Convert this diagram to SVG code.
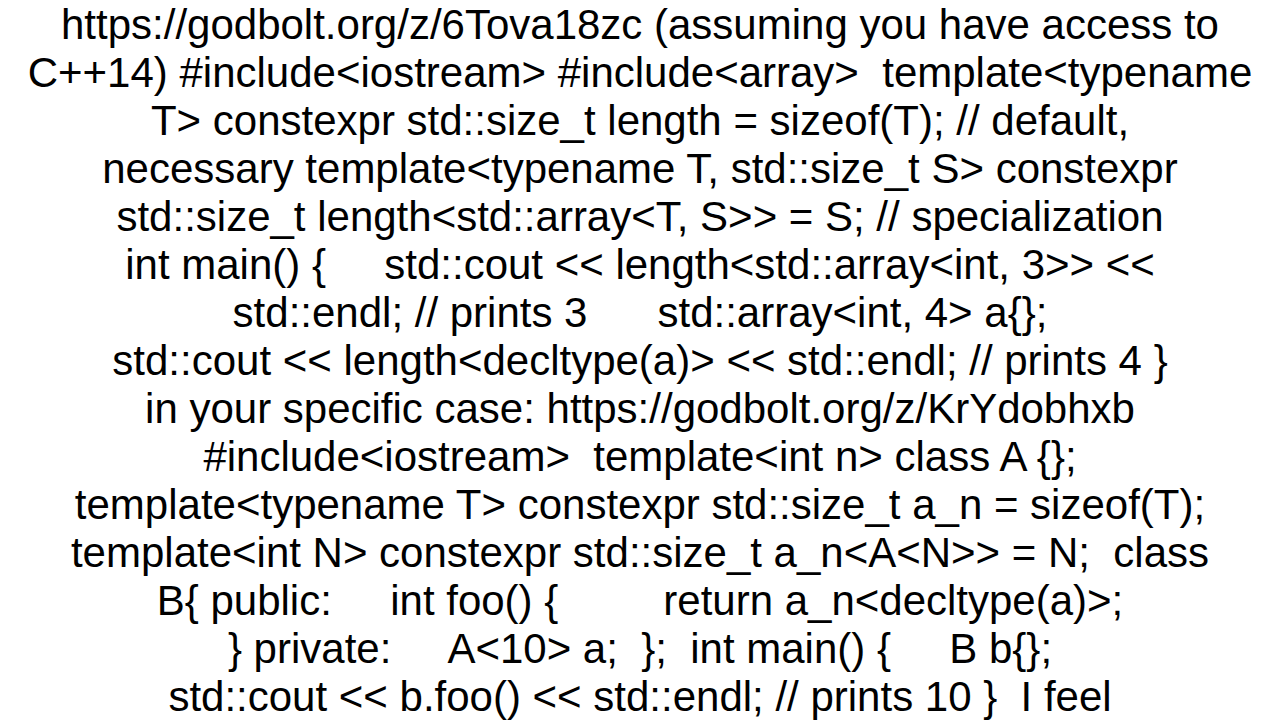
<svg xmlns="http://www.w3.org/2000/svg" width="1280" height="720" viewBox="0 0 1280 720">
<style>text{font-family:"Liberation Sans",Arial,sans-serif;font-size:42px;fill:#000;text-anchor:middle;white-space:pre}</style>
<rect width="1280" height="720" fill="#fff"/>
<g id="text">
<text x="640" y="39">https://godbolt.org/z/6Tova18zc (assuming you have access to</text>
<text x="640" y="87">C++14) #include&lt;iostream&gt; #include&lt;array&gt;  template&lt;typename</text>
<text x="640" y="135">T&gt; constexpr std::size_t length = sizeof(T); // default,</text>
<text x="640" y="183">necessary template&lt;typename T, std::size_t S&gt; constexpr</text>
<text x="640" y="231">std::size_t length&lt;std::array&lt;T, S&gt;&gt; = S; // specialization</text>
<text x="640" y="279">int main() {     std::cout &lt;&lt; length&lt;std::array&lt;int, 3&gt;&gt; &lt;&lt;</text>
<text x="640" y="327">std::endl; // prints 3      std::array&lt;int, 4&gt; a{};</text>
<text x="640" y="375">std::cout &lt;&lt; length&lt;decltype(a)&gt; &lt;&lt; std::endl; // prints 4 }</text>
<text x="640" y="423">in your specific case: https://godbolt.org/z/KrYdobhxb</text>
<text x="640" y="471">#include&lt;iostream&gt;  template&lt;int n&gt; class A {};</text>
<text x="640" y="519">template&lt;typename T&gt; constexpr std::size_t a_n = sizeof(T);</text>
<text x="640" y="567">template&lt;int N&gt; constexpr std::size_t a_n&lt;A&lt;N&gt;&gt; = N;  class</text>
<text x="640" y="615">B{ public:     int foo() {         return a_n&lt;decltype(a)&gt;;</text>
<text x="640" y="663">} private:     A&lt;10&gt; a;  };  int main() {     B b{};</text>
<text x="640" y="711">std::cout &lt;&lt; b.foo() &lt;&lt; std::endl; // prints 10 }  I feel</text>
</g>
</svg>
